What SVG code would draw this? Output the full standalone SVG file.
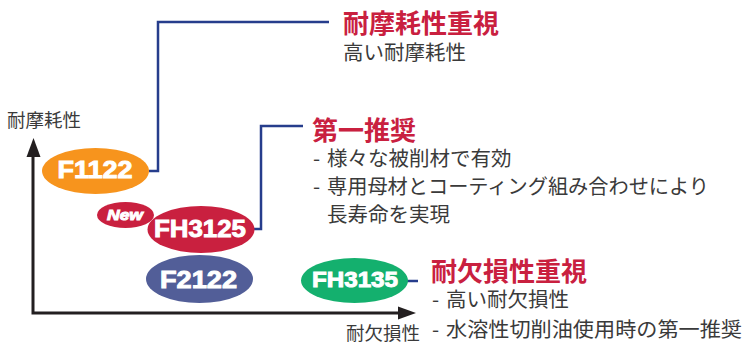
<svg xmlns="http://www.w3.org/2000/svg" width="744" height="344" viewBox="0 0 744 344">
<defs>
<style>
.lbl{font-family:"Liberation Sans",Arial,sans-serif;font-weight:bold;fill:#fff;stroke:#fff;stroke-width:0.9;text-anchor:middle}
.jp{font-family:"Noto Sans CJK JP","Noto Sans",sans-serif;fill:#3a3a3a}
.ttl{font-family:"Noto Sans CJK JP","Noto Sans",sans-serif;font-weight:bold;fill:#c9203f;font-size:26px}
.conn{fill:none;stroke:#263d8c;stroke-width:2.5}
.axis{fill:none;stroke:#231f20;stroke-width:3}
</style>
</defs>
<rect width="744" height="344" fill="#fff"/>
<g id="axes">
<polyline class="axis" points="33,152 33,313 400,313"/>
<path d="M26.5,157 L33.5,138 L40.5,157 z" fill="#231f20"/>
<path d="M398,306.5 L416,313 L398,319.5 z" fill="#231f20"/>
<text class="jp" x="7" y="127" font-size="18.5">耐摩耗性</text>
<text class="jp" x="346" y="340" font-size="18.5">耐欠損性</text>
</g>
<g id="connectors">
<polyline class="conn" points="149,171 158,171 158,22 329,22"/>
<polyline class="conn" points="254,229 261,229 261,126 303,126"/>
<polyline class="conn" points="407,281 418,281"/>
</g>
<g id="F1122">
<ellipse cx="95.5" cy="171" rx="53.5" ry="23" fill="#f7941d"/>
<text class="lbl" x="95" y="178" font-size="23" textLength="75" lengthAdjust="spacingAndGlyphs">F1122</text>
</g>
<g id="FH3125">
<ellipse cx="201" cy="229.5" rx="53.5" ry="23.5" fill="#c9203f"/>
<text class="lbl" x="200" y="237" font-size="23.5" textLength="92" lengthAdjust="spacingAndGlyphs">FH3125</text>
</g>
<g id="New">
<ellipse cx="125.5" cy="215" rx="28.5" ry="13" fill="#c9203f"/>
<text class="lbl" x="125" y="220" font-size="14" font-style="italic" stroke-width="0.5" textLength="36" lengthAdjust="spacingAndGlyphs">New</text>
</g>
<g id="F2122">
<ellipse cx="199.5" cy="279" rx="53.5" ry="24" fill="#525e98"/>
<text class="lbl" x="198.5" y="288" font-size="23" textLength="77" lengthAdjust="spacingAndGlyphs">F2122</text>
</g>
<g id="FH3135">
<ellipse cx="354.5" cy="280.5" rx="53.5" ry="22.5" fill="#14b06e"/>
<text class="lbl" x="355" y="287" font-size="21.5" textLength="86" lengthAdjust="spacingAndGlyphs">FH3135</text>
</g>
<g id="note-wear">
<text class="ttl" x="343" y="33">耐摩耗性重視</text>
<text class="jp" x="343" y="60" font-size="20.5">高い耐摩耗性</text>
</g>
<g id="note-first">
<text class="ttl" x="312" y="140">第一推奨</text>
<text class="jp" x="313" y="166" font-size="20.5">-<tspan x="327">様々な被削材で有効</tspan></text>
<text class="jp" x="313" y="194" font-size="20.5">-<tspan x="327" textLength="382" lengthAdjust="spacingAndGlyphs">専用母材とコーティング組み合わせにより</tspan></text>
<text class="jp" x="327" y="222" font-size="20.5">長寿命を実現</text>
</g>
<g id="note-chip">
<text class="ttl" x="431" y="281">耐欠損性重視</text>
<text class="jp" x="432" y="307" font-size="20.5">-<tspan x="446">高い耐欠損性</tspan></text>
<text class="jp" x="432" y="337" font-size="20.5">-<tspan x="446" textLength="296" lengthAdjust="spacingAndGlyphs">水溶性切削油使用時の第一推奨</tspan></text>
</g>
</svg>
